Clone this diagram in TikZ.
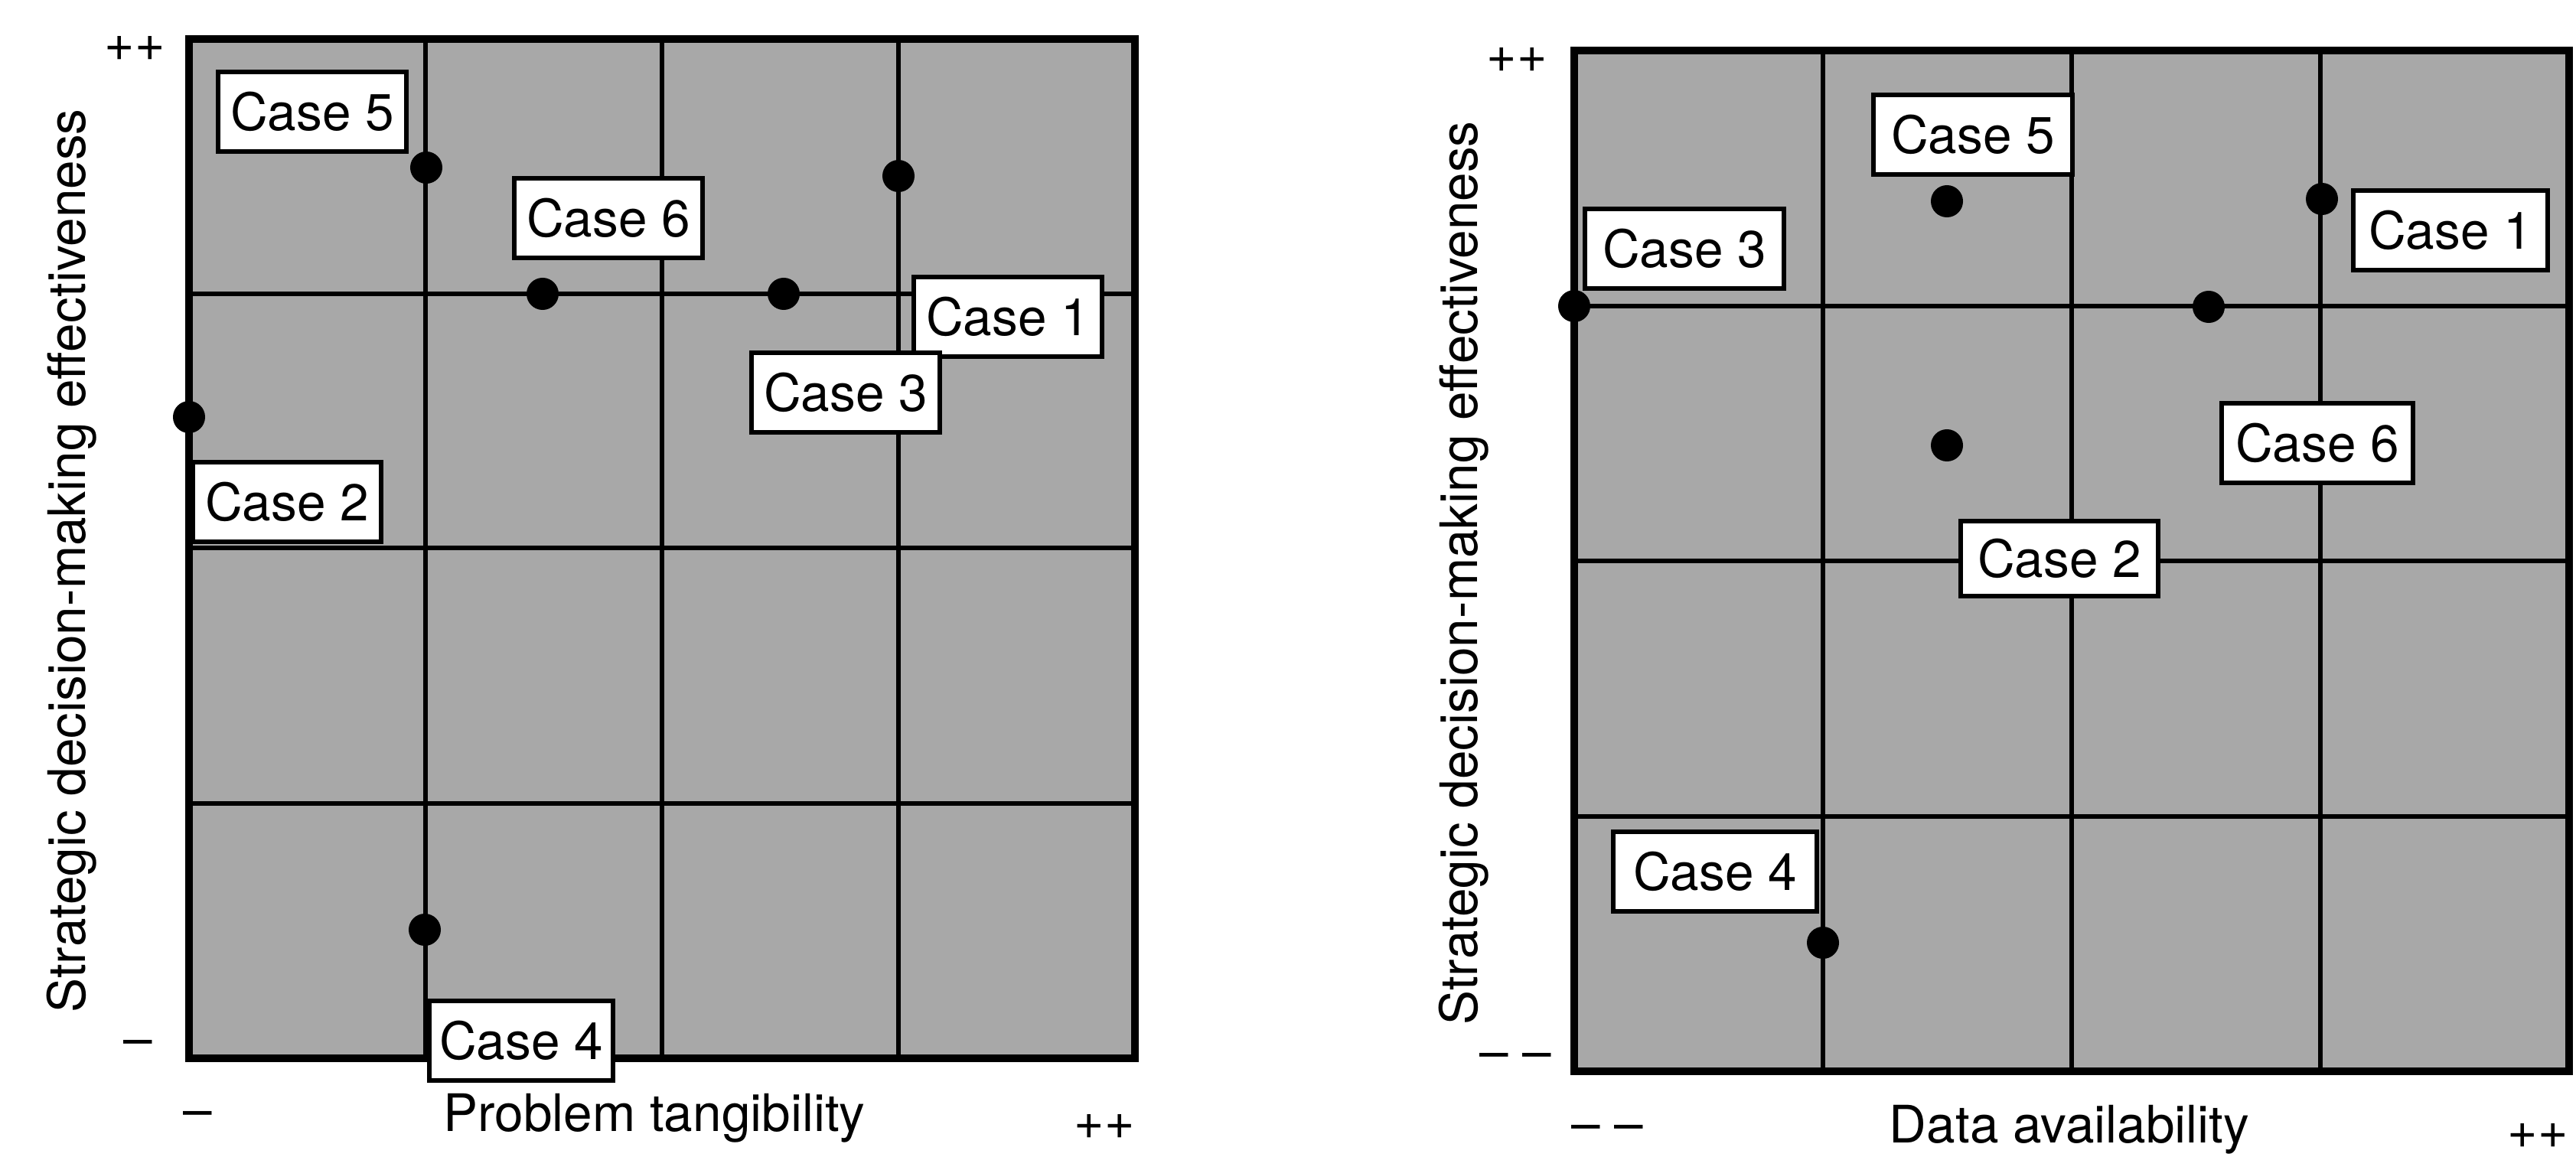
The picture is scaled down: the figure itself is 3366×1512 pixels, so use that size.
\documentclass[tikz,border=0pt]{standalone}
\usepackage{fontspec}
\setmainfont{TeX Gyre Heros}
\newcommand\diagfont{\fontsize{19.2pt}{23pt}\selectfont}
\definecolor{stipple}{gray}{0.66}
\tikzset{
  panelbg/.style={fill=stipple},
  gridline/.style={line width=1.8pt},
  frameline/.style={line width=2.6pt},
  casebox/.style={draw, line width=1.7pt, fill=white, minimum width=2.46cm, minimum height=1.03cm, inner sep=0pt, font=\diagfont},
  caseboxwide/.style={casebox, minimum width=2.6cm},
  dotmark/.style={circle, fill=black, inner sep=0pt, minimum size=0.42cm},
  axistext/.style={font=\diagfont, inner sep=0pt, anchor=base},
}
\begin{document}
\begin{tikzpicture}[x=0.01cm,y=-0.01cm]
\useasboundingbox (0,0) rectangle (3366,1512);

% ---------------- left panel ----------------
\fill[panelbg] (247,51) rectangle (1483,1383);
\foreach \xx in {556,865,1174} \draw[gridline] (\xx,51) -- (\xx,1383);
\foreach \yy in {384,716,1050} \draw[gridline] (247,\yy) -- (1483,\yy);
\draw[frameline] (247,51) rectangle (1483,1383);

\node[dotmark] (lp5) at (557,219) {};
\node[dotmark] (lp6) at (709,384) {};
\node[dotmark] (lp1) at (1174,230) {};
\node[dotmark] (lp3) at (1024,384) {};
\node[dotmark] (lp2) at (247,545) {};
\node[dotmark] (lp4) at (555,1215) {};

\node[casebox] (lc5) at (408,146) {Case 5};
\node[casebox] (lc6) at (795,285) {Case 6};
\node[casebox] (lc1) at (1317,414) {Case 1};
\node[casebox] (lc3) at (1105,513) {Case 3};
\node[casebox] (lc2) at (375,656) {Case 2};
\node[casebox, minimum width=2.39cm] (lc4) at (681,1360) {Case 4};

\node[axistext] (lyplus) at (176,79) {++};
\node[axistext] (lyminus) at (180,1380) {--};
\node[axistext] (lxminus) at (258,1473) {--};
\node[axistext] (lxtitle) at (855,1478) {Problem tangibility};
\node[axistext] (lxplus) at (1443,1488) {++};
\node[axistext, rotate=90] (lytitle) at (111,733) {Strategic decision-making effectiveness};

% ---------------- right panel ----------------
\fill[panelbg] (2057,66) rectangle (3357,1400);
\foreach \xx in {2382,2707,3032} \draw[gridline] (\xx,66) -- (\xx,1400);
\foreach \yy in {400,733,1067} \draw[gridline] (2057,\yy) -- (3357,\yy);
\draw[frameline] (2057,66) rectangle (3357,1400);

\node[dotmark] (rp5) at (2544,263) {};
\node[dotmark] (rp1) at (3034,260) {};
\node[dotmark] (rp3) at (2057,400) {};
\node[dotmark] (rp6) at (2886,401) {};
\node[dotmark] (rp2) at (2544,582) {};
\node[dotmark] (rp4) at (2382,1232) {};

\node[caseboxwide] (rc5) at (2578,176) {Case 5};
\node[caseboxwide] (rc3) at (2201,325) {Case 3};
\node[caseboxwide, minimum width=2.54cm] (rc1) at (3202,301) {Case 1};
\node[caseboxwide, minimum width=2.5cm] (rc6) at (3028,579) {Case 6};
\node[caseboxwide, minimum width=2.58cm, minimum height=0.97cm] (rc2) at (2691,730) {Case 2};
\node[caseboxwide, minimum width=2.65cm] (rc4) at (2241,1139) {Case 4};

\node[axistext] (ryplus) at (1982,94) {++};
\node[axistext] (ryminus) at (1980,1397) {-- --};
\node[axistext] (rxminus) at (2100,1491) {-- --};
\node[axistext] (rxtitle) at (2704,1493) {Data availability};
\node[axistext] (rxplus) at (3316,1500) {++};
\node[axistext, rotate=90] (rytitle) at (1930,749) {Strategic decision-making effectiveness};
\end{tikzpicture}
\end{document}
